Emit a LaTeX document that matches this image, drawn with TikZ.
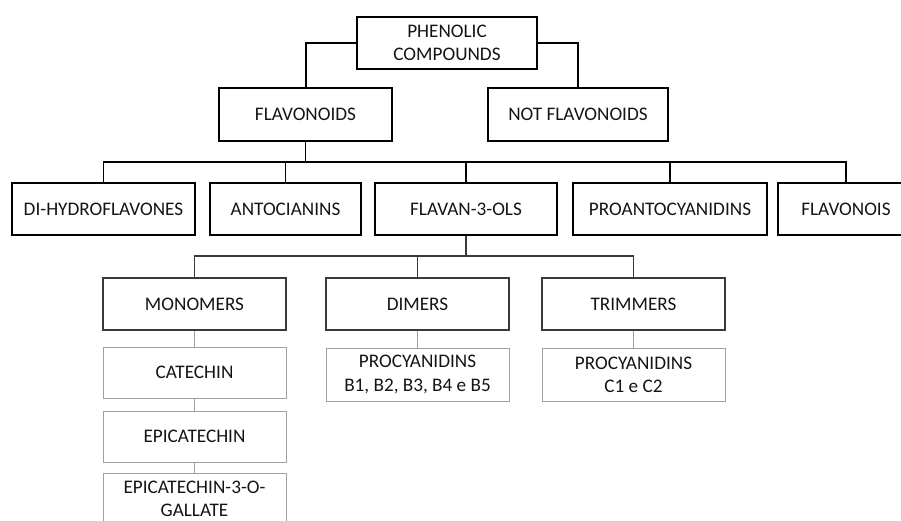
\documentclass[tikz,border=0pt]{standalone}
\usepackage{fontspec}
\setmainfont{Carlito}
\definecolor{txt}{HTML}{141414}
\definecolor{lvthree}{HTML}{3A3A3A}
\definecolor{lvfour}{HTML}{A0A0A0}
\begin{document}
\begin{tikzpicture}[x=1pt,y=-1pt,
  box/.style={draw,rectangle,inner sep=0pt,align=center,text=txt,
    font=\fontsize{19.2}{23.2}\selectfont,minimum height=52pt},
  topbox/.style={box,line width=2pt},
  lvtwo/.style={box,line width=1.4pt,minimum width=183pt},
  lvthreebox/.style={box,draw=lvthree,line width=1.1pt,minimum width=183pt},
  lvfourbox/.style={box,draw=lvfour,line width=0.9pt,minimum width=183pt,minimum height=51pt},
  conone/.style={line width=2pt},
  contwo/.style={line width=1.4pt},
  conthree/.style={draw=lvthree,line width=1.1pt},
  confour/.style={draw=lvfour,line width=0.9pt}]
\useasboundingbox (0,0) rectangle (901,520);
\clip (0,0) rectangle (901,520);
% level 1
\node[topbox,minimum width=180pt] (phen) at (447,43) {PHENOLIC\\COMPOUNDS};
\node[topbox,minimum width=173pt,minimum height=53pt] (flav) at (305.5,114.5) {FLAVONOIDS};
\node[topbox,minimum width=180pt,minimum height=53pt] (notf) at (578,114.5) {NOT FLAVONOIDS};
\draw[conone] (phen.west) -| (flav.north);
\draw[conone] (phen.east) -| (notf.north);
% level 2
\node[lvtwo,minimum width=183pt] (dihyd) at (103.5,209) {DI-HYDROFLAVONES};
\node[lvtwo,minimum width=151pt] (anto) at (285.5,209) {ANTOCIANINS};
\node[lvtwo,minimum width=182pt] (fol) at (466,209) {FLAVAN-3-OLS};
\node[lvtwo,minimum width=194pt] (proa) at (670,209) {PROANTOCYANIDINS};
\node[lvtwo,minimum width=136pt] (fnois) at (846,209) {FLAVONOIS};
\coordinate (bone) at (305.5,162);
\draw[contwo] (flav.south) -- (bone);
\foreach \c in {dihyd,anto,fol,proa,fnois}
  \draw[contwo] (bone) -| (\c.north);
% level 3
\node[lvthreebox] (mono) at (194.5,304) {MONOMERS};
\node[lvthreebox] (dim) at (417.5,304) {DIMERS};
\node[lvthreebox] (trim) at (633.5,304) {TRIMMERS};
\coordinate (btwo) at (466,256);
\draw[conthree] (fol.south) -- (btwo);
\foreach \c in {mono,dim,trim}
  \draw[conthree] (btwo) -| (\c.north);
% level 4
\node[lvfourbox] (cat) at (194.5,372.5) {CATECHIN};
\node[lvfourbox] (epi) at (194.5,436.5) {EPICATECHIN};
\node[lvfourbox,minimum height=53pt] (gall) at (194.5,499.5) {\raisebox{1.5pt}{EPICATECHIN-3-O-}\\\raisebox{1.5pt}{GALLATE}};
\node[lvfourbox,minimum height=53pt] (pb) at (417.5,374.5) {PROCYANIDINS\\B1, B2, B3, B4 e B5};
\node[lvfourbox,minimum height=53pt] (pc) at (633.5,374.5) {PROCYANIDINS\\C1 e C2};
\draw[confour] (mono.south) -- (cat.north);
\draw[confour] (cat.south) -- (epi.north);
\draw[confour] (epi.south) -- (gall.north);
\draw[confour] (dim.south) -- (pb.north);
\draw[confour] (trim.south) -- (pc.north);
\end{tikzpicture}
\end{document}
